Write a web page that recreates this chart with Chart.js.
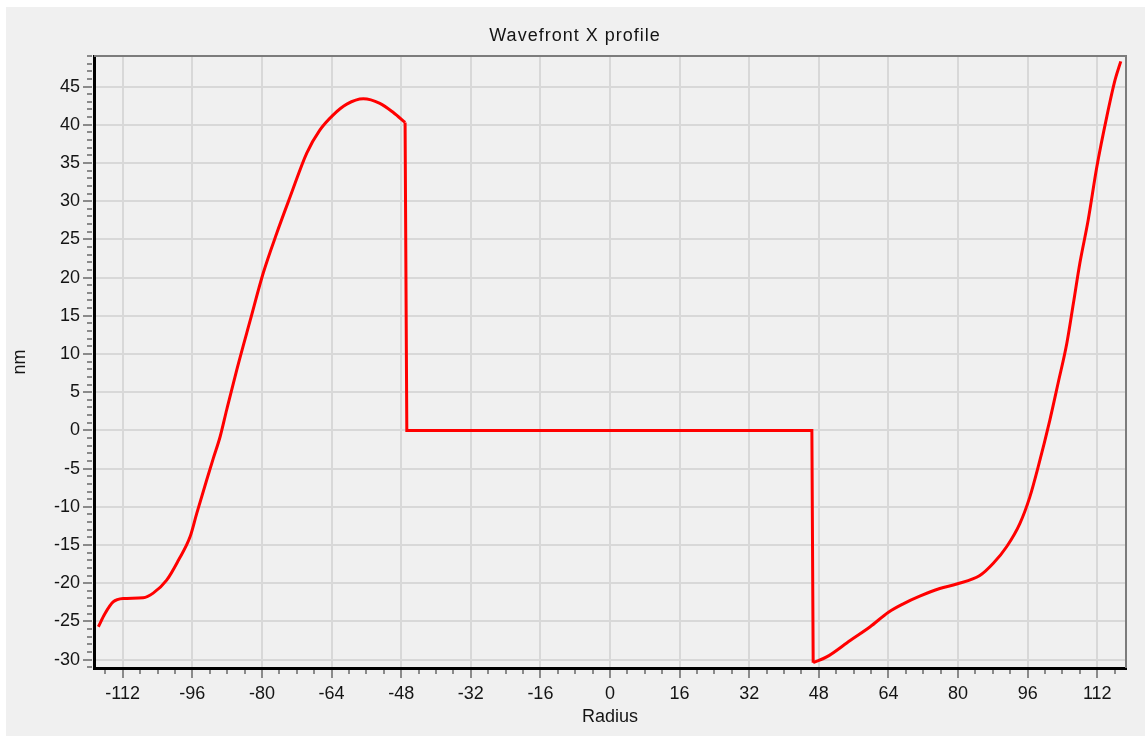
<!DOCTYPE html>
<html>
<head>
<meta charset="utf-8">
<title>Wavefront X profile</title>
<script src="https://cdn.jsdelivr.net/npm/chart.js@4.4.1/dist/chart.umd.min.js"></script>
<style>
  html, body { margin: 0; padding: 0; background: #ffffff; }
  #wrap { width: 1145px; height: 736px; position: relative; }
</style>
</head>
<body>
<div id="wrap"><canvas id="profile-chart"></canvas></div>
<script>
// ---- data ----
// left lobe (smooth part)
const leftRadius = [
    -117.6, -116.1, -114.2, -111.9, -107.3, -105.0, -101.9, -99.2, -96.5, -95.0,
    -92.7, -91.2, -89.6, -88.1, -85.8, -82.7, -79.7, -76.6, -73.5, -69.7,
    -66.7, -63.6, -60.5, -56.7, -52.9, -49.8, -47.1
];
const leftNm = [
    -25.7, -24.0, -22.45, -22.0, -21.9, -21.3, -19.6, -17.0, -13.9, -10.9,
    -6.5, -3.7, -0.8, 2.7, 7.9, 14.4, 20.6, 25.8, 30.6, 36.3,
    39.3, 41.3, 42.7, 43.4, 42.8, 41.6, 40.3
];
// masked centre: drop, flat zero, drop
const stepRadius = [-47.1, -46.7, 46.4, 46.7];
const stepNm = [40.3, 0, 0, -30.4];
// right wing (smooth part)
const rightRadius = [
    46.7, 49.8, 55.2, 59.8, 64.0, 67.4, 71.2, 75.8, 79.7,
    85.0, 88.1, 91.2, 94.2, 96.5, 98.4, 101.1, 103.0, 105.0, 106.5,
    108.0, 109.9, 111.9, 114.2, 116.1, 117.4
];
const rightNm = [
    -30.4, -29.65, -27.5, -25.7, -23.8, -22.7, -21.7, -20.7, -20.1,
    -19.0, -17.4, -15.2, -12.2, -8.7, -4.8, 1.35, 6.2, 11.4, 16.6,
    21.9, 27.5, 34.5, 41.1, 45.9, 48.3
];
const xTicks = [-112, -96, -80, -64, -48, -32, -16, 0, 16, 32, 48, 64, 80, 96, 112];
const yTicks = [-30, -25, -20, -15, -10, -5, 0, 5, 10, 15, 20, 25, 30, 35, 40, 45];
const xMinorStep = 4;
const yMinorStep = 1;

const chartTitle = 'Wavefront X profile';
const xTitle = 'Radius';
const yTitle = 'nm';

const FONT = "'Liberation Sans', Arial, sans-serif";
const TEXT = '#141414';
const LINE = '#ff0000';

// background panel, frame, minor ticks and titles
const decorPlugin = {
    id: 'decor',
    beforeDraw(chart) {
        const { ctx, width, height } = chart;
        ctx.save();
        ctx.fillStyle = '#ffffff';
        ctx.fillRect(0, 0, width, height);
        ctx.fillStyle = '#f0f0f0';
        ctx.fillRect(6, 7, width - 6, height - 7);
        ctx.restore();
    },
    afterDraw(chart) {
        const { ctx, chartArea: a } = chart;
        const xs = chart.scales.x, ys = chart.scales.y;
        ctx.save();

        // top / right frame
        ctx.strokeStyle = '#7c7c7c';
        ctx.lineWidth = 2;
        ctx.beginPath();
        ctx.moveTo(a.left, a.top);
        ctx.lineTo(a.right, a.top);
        ctx.lineTo(a.right, a.bottom);
        ctx.stroke();

        // tick marks
        ctx.strokeStyle = '#8a8a8a';
        ctx.lineWidth = 2;
        ctx.beginPath();
        for (let v = Math.ceil(xs.min / xMinorStep) * xMinorStep; v <= xs.max; v += xMinorStep) {
            const px = Math.round(xs.getPixelForValue(v));
            const len = xTicks.includes(v) ? 10 : 6;
            ctx.moveTo(px, a.bottom + 2);
            ctx.lineTo(px, a.bottom + len);
        }
        for (let v = Math.ceil(ys.min / yMinorStep) * yMinorStep; v <= ys.max; v += yMinorStep) {
            const py = Math.round(ys.getPixelForValue(v));
            const len = yTicks.includes(v) ? 9 : 5;
            ctx.moveTo(a.left - 2, py);
            ctx.lineTo(a.left - 2 - len, py);
        }
        ctx.stroke();

        // titles
        ctx.fillStyle = TEXT;
        ctx.textAlign = 'center';
        ctx.textBaseline = 'middle';
        ctx.font = '18px ' + FONT;
        ctx.letterSpacing = '1px';
        ctx.fillText(chartTitle, 575, 36);
        ctx.letterSpacing = '0px';
        ctx.fillText(xTitle, (a.left + a.right) / 2, 717);
        ctx.translate(20, (a.top + a.bottom) / 2);
        ctx.rotate(-Math.PI / 2);
        ctx.fillText(yTitle, 0, 0);
        ctx.restore();
    }
};

const toPoints = (xs, ys) => xs.map((x, i) => ({ x, y: ys[i] }));
const lineStyle = { borderColor: LINE, borderWidth: 3, pointRadius: 0, fill: false };

new Chart(document.getElementById('profile-chart'), {
    type: 'line',
    data: {
        datasets: [
            { label: 'left', data: toPoints(leftRadius, leftNm), cubicInterpolationMode: 'monotone', ...lineStyle },
            { label: 'step', data: toPoints(stepRadius, stepNm), tension: 0, ...lineStyle },
            { label: 'right', data: toPoints(rightRadius, rightNm), cubicInterpolationMode: 'monotone', ...lineStyle },
        ]
    },
    options: {
        responsive: true,
        maintainAspectRatio: false,
        animation: false,
        devicePixelRatio: 1,
        layout: { padding: { top: 56, right: 19, bottom: 0, left: 0 } },
        plugins: { legend: { display: false }, title: { display: false }, tooltip: { enabled: false } },
        scales: {
            x: {
                type: 'linear',
                min: -118.6,
                max: 118.6,
                afterBuildTicks: s => { s.ticks = xTicks.map(v => ({ value: v })); },
                afterFit: s => { s.height = 68; },
                grid: { color: '#d8d8d8', lineWidth: 2, drawTicks: false },
                border: { color: '#000000', width: 3 },
                ticks: { color: TEXT, font: { family: FONT, size: 18 }, padding: 15, maxRotation: 0, autoSkip: false }
            },
            y: {
                type: 'linear',
                min: -31.1,
                max: 49,
                afterBuildTicks: s => { s.ticks = yTicks.map(v => ({ value: v })); },
                afterFit: s => { s.width = 94; },
                grid: { color: '#d8d8d8', lineWidth: 2, drawTicks: false },
                border: { color: '#000000', width: 3 },
                ticks: { color: TEXT, font: { family: FONT, size: 18 }, padding: 14, autoSkip: false }
            }
        }
    },
    plugins: [decorPlugin]
});
</script>
</body>
</html>
